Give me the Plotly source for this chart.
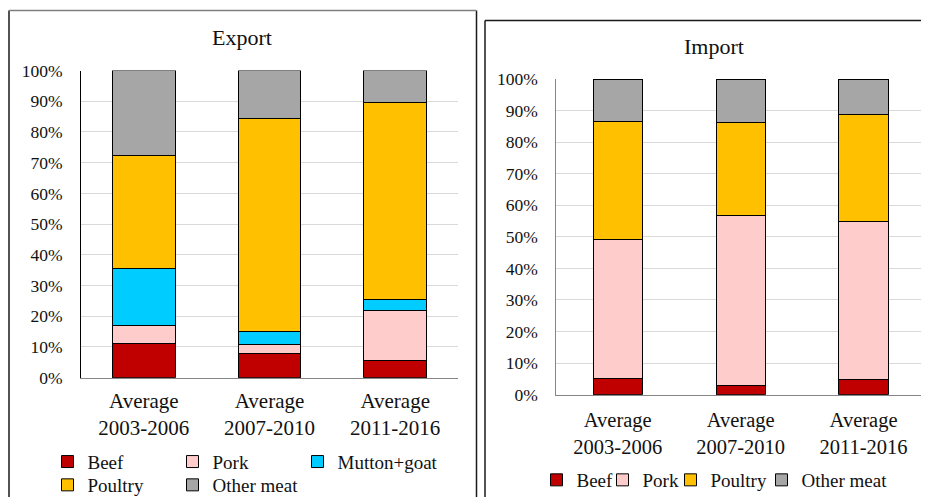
import plotly.graph_objects as go

W, H = 929, 497
OX, OY = 8, 8  # page body offset compensation

categories = ["Average<br>2003-2006", "Average<br>2007-2010", "Average<br>2011-2016"]

export_beef = [11.0, 7.9, 5.7]
export_pork = [6.1, 2.8, 16.1]
export_mutton = [18.4, 4.5, 3.6]
export_poultry = [36.9, 69.2, 64.1]
export_other = [27.6, 15.6, 10.5]

import_beef = [5.1, 3.0, 4.8]
import_pork = [44.1, 53.8, 50.2]
import_poultry = [37.4, 29.3, 33.8]
import_other = [13.4, 13.9, 11.2]

y_ticks = list(range(0, 101, 10))
y_ticktext = [f"{v}%" for v in y_ticks]

colors = {
    "Beef": "#C00000",
    "Pork": "#FFCCCC",
    "Mutton+goat": "#00CCFF",
    "Poultry": "#FFC000",
    "Other meat": "#A6A6A6",
}

FONT = "Liberation Serif"
TXT = "#111111"

fig = go.Figure()

export_series = [
    ("Beef", export_beef, "legend", 80),
    ("Pork", export_pork, "legend", 80),
    ("Mutton+goat", export_mutton, "legend", 115),
    ("Poultry", export_poultry, "legend2", 80),
    ("Other meat", export_other, "legend2", 100),
]
for name, vals, lg, lw in export_series:
    fig.add_trace(go.Bar(
        x=categories, y=vals, name=name, xaxis="x", yaxis="y",
        width=0.5, legend=lg, legendwidth=lw,
        marker=dict(color=colors[name], line=dict(color="#000000", width=1)),
    ))

import_series = [
    ("Beef", import_beef, 21),
    ("Pork", import_pork, 23),
    ("Poultry", import_poultry, 46),
    ("Other meat", import_other, 90),
]
for name, vals, lw in import_series:
    fig.add_trace(go.Bar(
        x=categories, y=vals, name=name, xaxis="x2", yaxis="y2",
        width=0.4, legend="legend3", legendwidth=lw,
        marker=dict(color=colors[name], line=dict(color="#000000", width=1)),
    ))

def px_x(p):
    return (p - OX) / W

def px_y(p):
    return 1 - (p - OY) / H

axis_common = dict(showgrid=False, zeroline=False)
leg_common = dict(orientation="h", xanchor="left", yanchor="middle",
                  font=dict(size=19, family=FONT, color=TXT), bgcolor="rgba(0,0,0,0)",
                  entrywidthmode="pixels", itemwidth=30, traceorder="normal")

fig.update_layout(
    width=W, height=H, autosize=False,
    margin=dict(l=0, r=0, t=0, b=0, autoexpand=False),
    paper_bgcolor="white", plot_bgcolor="white",
    barmode="stack",
    font=dict(family=FONT, color=TXT),
    xaxis=dict(domain=[px_x(81), px_x(458)], anchor="y", range=[-0.5, 2.5],
               showline=True, linecolor="#868686", linewidth=1,
               ticks="", ticklabelstandoff=4, automargin=False,
               tickfont=dict(size=21, family=FONT, color=TXT),
               **axis_common),
    yaxis=dict(domain=[px_y(377.7), px_y(70.5)], anchor="x", range=[0, 100],
               tickvals=y_ticks, ticktext=y_ticktext,
               showgrid=True, gridcolor="#D9D9D9", gridwidth=1, zeroline=False,
               showline=True, linecolor="#000000", linewidth=1,
               ticks="", ticklabelstandoff=14, automargin=False,
               tickfont=dict(size=17.5, family=FONT, color=TXT)),
    xaxis2=dict(domain=[px_x(556.3), px_x(925)], anchor="y2", range=[-0.5, 2.5],
                showline=True, linecolor="#868686", linewidth=1,
                ticks="", ticklabelstandoff=7, automargin=False,
                tickfont=dict(size=20.5, family=FONT, color=TXT),
                **axis_common),
    yaxis2=dict(domain=[px_y(394.7), px_y(79)], anchor="x2", range=[0, 100],
                tickvals=y_ticks, ticktext=y_ticktext,
                showgrid=True, gridcolor="#D9D9D9", gridwidth=1, zeroline=False,
                showline=True, linecolor="#868686", linewidth=1,
                ticks="", ticklabelstandoff=14, automargin=False,
                tickfont=dict(size=17.5, family=FONT, color=TXT)),
    legend=dict(x=px_x(47.5), y=px_y(461.7), **leg_common),
    legend2=dict(x=px_x(47.5), y=px_y(485), **leg_common),
    legend3=dict(x=px_x(536.5), y=px_y(480), **leg_common),
    annotations=[
        dict(text="Export", xref="paper", yref="paper", x=px_x(242), y=px_y(37),
             xanchor="center", yanchor="middle", showarrow=False,
             font=dict(size=22, family=FONT, color=TXT)),
        dict(text="Import", xref="paper", yref="paper", x=px_x(713.5), y=px_y(46),
             xanchor="center", yanchor="middle", showarrow=False,
             font=dict(size=22, family=FONT, color=TXT)),
    ],
    shapes=[
        # Export panel border
        dict(type="line", xref="paper", yref="paper", x0=px_x(9), x1=px_x(9), y0=px_y(10.5), y1=px_y(520),
             line=dict(color="#1a1a1a", width=1.5)),
        dict(type="line", xref="paper", yref="paper", x0=px_x(476.5), x1=px_x(476.5), y0=px_y(10.5), y1=px_y(520),
             line=dict(color="#1a1a1a", width=1.5)),
        dict(type="line", xref="paper", yref="paper", x0=px_x(9), x1=px_x(476.5), y0=px_y(10.5), y1=px_y(10.5),
             line=dict(color="#7f7f7f", width=1.5)),
        # Import panel border
        dict(type="line", xref="paper", yref="paper", x0=px_x(485), x1=px_x(485), y0=px_y(20.5), y1=px_y(520),
             line=dict(color="#1a1a1a", width=1.5)),
        dict(type="line", xref="paper", yref="paper", x0=px_x(485), x1=px_x(945), y0=px_y(20.5), y1=px_y(20.5),
             line=dict(color="#1a1a1a", width=1.5)),
    ],
)

fig.write_html("out.html")
